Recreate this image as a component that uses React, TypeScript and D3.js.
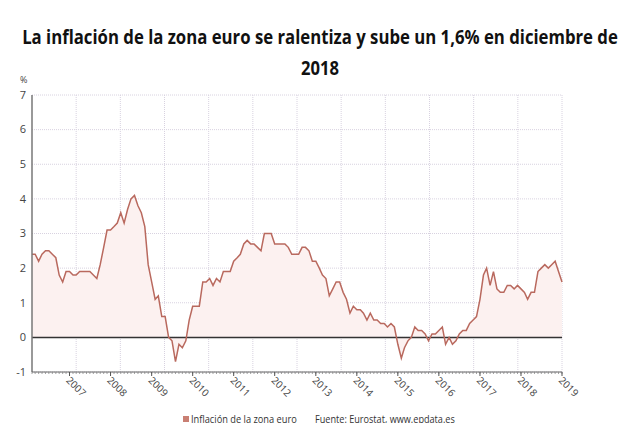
import React, { useLayoutEffect, useRef } from "react";
import * as d3 from "d3";

// Monthly euro area inflation (%), Jan 2006 - Dec 2018
const inflation: number[] = [
  2.4, 2.4, 2.2, 2.4, 2.5, 2.5, 2.4, 2.3, 1.8, 1.6, 1.9, 1.9, // 2006
  1.8, 1.8, 1.9, 1.9, 1.9, 1.9, 1.8, 1.7, 2.1, 2.6, 3.1, 3.1, // 2007
  3.2, 3.3, 3.6, 3.3, 3.7, 4.0, 4.1, 3.8, 3.6, 3.2, 2.1, 1.6, // 2008
  1.1, 1.2, 0.6, 0.6, 0.0, -0.1, -0.7, -0.2, -0.3, -0.1, 0.5, 0.9, // 2009
  0.9, 0.9, 1.6, 1.6, 1.7, 1.5, 1.7, 1.6, 1.9, 1.9, 1.9, 2.2, // 2010
  2.3, 2.4, 2.7, 2.8, 2.7, 2.7, 2.6, 2.5, 3.0, 3.0, 3.0, 2.7, // 2011
  2.7, 2.7, 2.7, 2.6, 2.4, 2.4, 2.4, 2.6, 2.6, 2.5, 2.2, 2.2, // 2012
  2.0, 1.8, 1.7, 1.2, 1.4, 1.6, 1.6, 1.3, 1.1, 0.7, 0.9, 0.8, // 2013
  0.8, 0.7, 0.5, 0.7, 0.5, 0.5, 0.4, 0.4, 0.3, 0.4, 0.3, -0.2, // 2014
  -0.6, -0.3, -0.1, 0.0, 0.3, 0.2, 0.2, 0.1, -0.1, 0.1, 0.1, 0.2, // 2015
  0.3, -0.2, 0.0, -0.2, -0.1, 0.1, 0.2, 0.2, 0.4, 0.5, 0.6, 1.1, // 2016
  1.8, 2.0, 1.5, 1.9, 1.4, 1.3, 1.3, 1.5, 1.5, 1.4, 1.5, 1.4, // 2017
  1.3, 1.1, 1.3, 1.3, 1.9, 2.0, 2.1, 2.0, 2.1, 2.2, 1.9, 1.6, // 2018
];
const startYear = 2006;
const xTickYears = [2007, 2008, 2009, 2010, 2011, 2012, 2013, 2014, 2015, 2016, 2017, 2018, 2019];
const yTicks = [-1, 0, 1, 2, 3, 4, 5, 6, 7];

const titleLines = [
  "La inflación de la zona euro se ralentiza y sube un 1,6% en diciembre de",
  "2018",
];
const legendLabel = "Inflación de la zona euro";
const sourceLabel = "Fuente: Eurostat, www.epdata.es";

const width = 640;
const height = 431;
const plot = { left: 32, right: 562, top: 95, bottom: 372 };
const lineColor = "#b9695e";
const font = "'Open Sans', sans-serif";

// each month's value is stamped at the end of that month
const data = inflation.map((v, i) => ({
  date: new Date(startYear, i + 1, 1),
  value: v,
}));

// squeezes a text horizontally so it spans the given width (condensed look)
const FitText: React.FC<{
  x: number;
  y: number;
  w: number;
  anchor: "start" | "middle";
  size: number;
  weight?: number;
  fill: string;
  children: string;
}> = ({ x, y, w, anchor, size, weight = 400, fill, children }) => {
  const ref = useRef<SVGTextElement>(null);
  useLayoutEffect(() => {
    const el = ref.current;
    if (!el) return;
    const natural = el.getComputedTextLength();
    const sx = natural > 0 ? w / natural : 1;
    el.setAttribute("transform", `translate(${x},${y}) scale(${sx},1)`);
  }, [x, y, w, children]);
  return (
    <text
      ref={ref}
      transform={`translate(${x},${y})`}
      textAnchor={anchor}
      fontFamily={font}
      fontWeight={weight}
      fontSize={size}
      fill={fill}
    >
      {children}
    </text>
  );
};

const App: React.FC = () => {
  const x = d3
    .scaleTime()
    .domain([data[0].date, data[data.length - 1].date])
    .range([plot.left, plot.right]);
  const y = d3.scaleLinear().domain([-1, 7]).range([plot.bottom, plot.top]);

  // vertical grid is evenly spaced, not tied to the year ticks
  const gridX = d3.scaleLinear().domain([0, 12]).range([plot.left, plot.right]);

  const area = d3
    .area<{ date: Date; value: number }>()
    .x((d) => x(d.date))
    .y0(y(0))
    .y1((d) => y(d.value));
  const line = d3
    .line<{ date: Date; value: number }>()
    .x((d) => x(d.date))
    .y((d) => y(d.value));

  const months = d3.timeMonth.range(
    new Date(startYear, 1, 1),
    new Date(2019, 0, 2)
  );

  return (
    <svg width={width} height={height} style={{ display: "block", margin: -8 }}>
      <rect width={width} height={height} fill="#fff" />
      {/* Title */}
      <FitText x={320} y={44} w={596} anchor="middle" size={20} weight={700} fill="#111">
        {titleLines[0]}
      </FitText>
      <FitText x={320} y={75} w={38} anchor="middle" size={20} weight={700} fill="#111">
        {titleLines[1]}
      </FitText>

      {/* Grid */}
      {yTicks.map((t) => (
        <line
          key={"gy" + t}
          x1={plot.left}
          x2={plot.right}
          y1={y(t)}
          y2={y(t)}
          stroke="#d8d2e0"
          strokeDasharray="1,1"
        />
      ))}
      {d3.range(1, 13).map((i) => (
        <line
          key={"gx" + i}
          x1={gridX(i)}
          x2={gridX(i)}
          y1={plot.top}
          y2={plot.bottom}
          stroke="#d8d2e0"
          strokeDasharray="1,1"
        />
      ))}

      {/* Series */}
      <path d={area(data) || ""} fill="#fcf1f0" />
      <line
        x1={plot.left}
        x2={plot.right}
        y1={y(0)}
        y2={y(0)}
        stroke="#333"
        strokeWidth={1.5}
      />
      <path d={line(data) || ""} fill="none" stroke={lineColor} strokeWidth={1.5} />

      {/* Y axis */}
      <line
        x1={plot.left}
        x2={plot.left}
        y1={plot.top}
        y2={plot.bottom}
        stroke="#777"
        strokeWidth={1.5}
      />
      {yTicks.map((t) => (
        <text
          key={"ty" + t}
          x={plot.left - 6}
          y={y(t)}
          dy="0.35em"
          textAnchor="end"
          fontFamily={font}
          fontSize={11}
          fill="#444"
        >
          {t}
        </text>
      ))}
      <text x={20} y={83} fontFamily={font} fontSize={9} fill="#444">
        %
      </text>

      {/* X axis */}
      <line
        x1={plot.left}
        x2={plot.right}
        y1={plot.bottom}
        y2={plot.bottom}
        stroke="#666"
        strokeWidth={1}
      />
      {months.map((m, i) => (
        <line
          key={"mt" + i}
          x1={x(m)}
          x2={x(m)}
          y1={plot.bottom}
          y2={plot.bottom + 2}
          stroke="#888"
          strokeWidth={0.8}
        />
      ))}
      {xTickYears.map((yr) => {
        const px = x(new Date(yr, 0, 1));
        return (
          <g key={"tx" + yr}>
            <line
              x1={px}
              x2={px}
              y1={plot.bottom}
              y2={plot.bottom + 4}
              stroke="#555"
            />
            <text
              transform={`translate(${px - 4},${plot.bottom + 9}) rotate(45)`}
              fontFamily={font}
              fontSize={10}
              fill="#444"
            >
              {yr}
            </text>
          </g>
        );
      })}

      {/* Legend */}
      <rect x={183} y={416} width={6} height={6} fill="#c97f73" />
      <FitText x={191} y={423} w={106} anchor="start" size={10} fill="#333">
        {legendLabel}
      </FitText>
      <FitText x={315} y={423} w={140} anchor="start" size={10} fill="#333">
        {sourceLabel}
      </FitText>
    </svg>
  );
};

export default App;
